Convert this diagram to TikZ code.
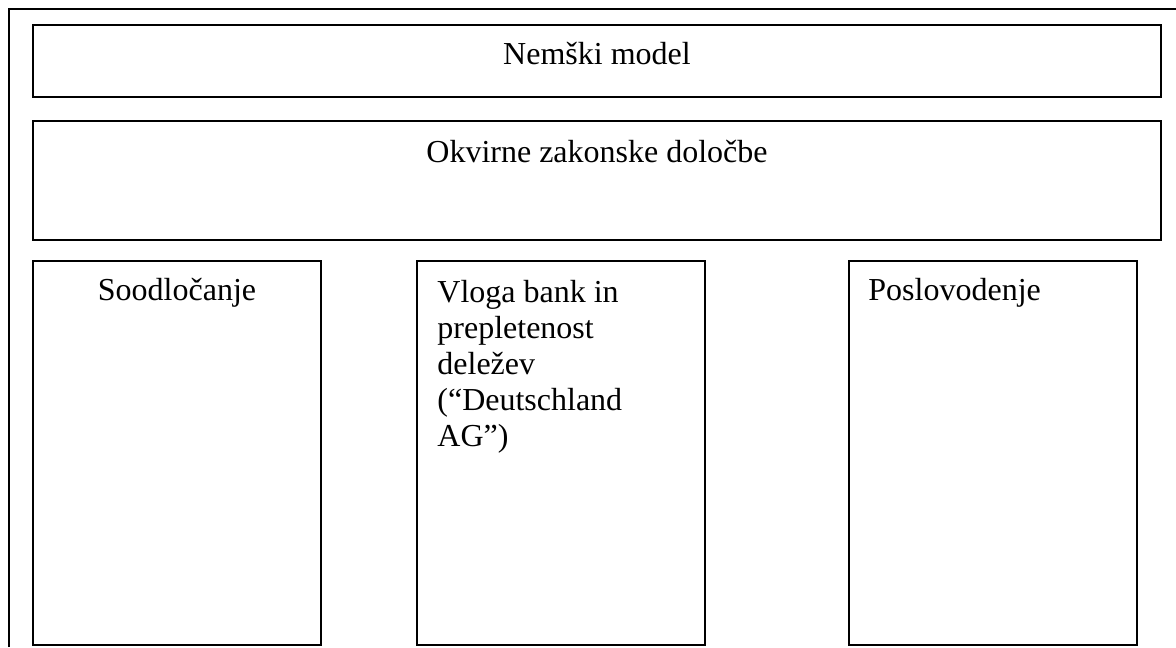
\documentclass[tikz,border=0pt]{standalone}
\usepackage{fontspec}
\setmainfont{Liberation Serif}
\usetikzlibrary{positioning}
\def\modelfontsize{\fontsize{16}{18}\selectfont}
\tikzset{
    modelbox/.style={draw=black, line width=0.8pt, rectangle, inner sep=0pt},
    modeltext/.style={inner sep=0pt, font=\modelfontsize}
}

\begin{document}
\begin{tikzpicture}[x=0.5pt, y=-0.5pt]
            \useasboundingbox (0,0) rectangle (1176,647);
            % outer frame (cut at the right and bottom)
            \draw[line width=0.8pt] (9,647) -- (9,9) -- (1176,9);
            % top rows
            \node[modelbox, minimum width=564pt, minimum height=36pt] (nemski) at (597,61) {};
            \node[modelbox, minimum width=564pt, minimum height=59.5pt] (okvirne) at (597,180.5) {};
            % three columns
            \node[modelbox, minimum width=144pt, minimum height=192pt] (soodlocanje) at (177,453) {};
            \node[modelbox, minimum width=144pt, minimum height=192pt] (vloga) at (561,453) {};
            \node[modelbox, minimum width=144pt, minimum height=192pt] (poslovodenje) at (993,453) {};
            % labels
            \node[modeltext, anchor=base] (nemskitxt) at (597,65) {Nemški model};
            \node[modeltext, anchor=base] (okvirnetxt) at (597,162) {Okvirne zakonske določbe};
            \node[modeltext, anchor=base] (soodlocanjetxt) at (177,300) {Soodločanje};
            \node[modeltext, anchor=north west, align=left] (vlogatxt) at (437,280) {Vloga bank in\\prepletenost\\deležev\\(“Deutschland\\AG”)};
            \node[modeltext, anchor=base west] (poslovodenjetxt) at (868,300) {Poslovodenje};
    \end{tikzpicture}
\end{document}
